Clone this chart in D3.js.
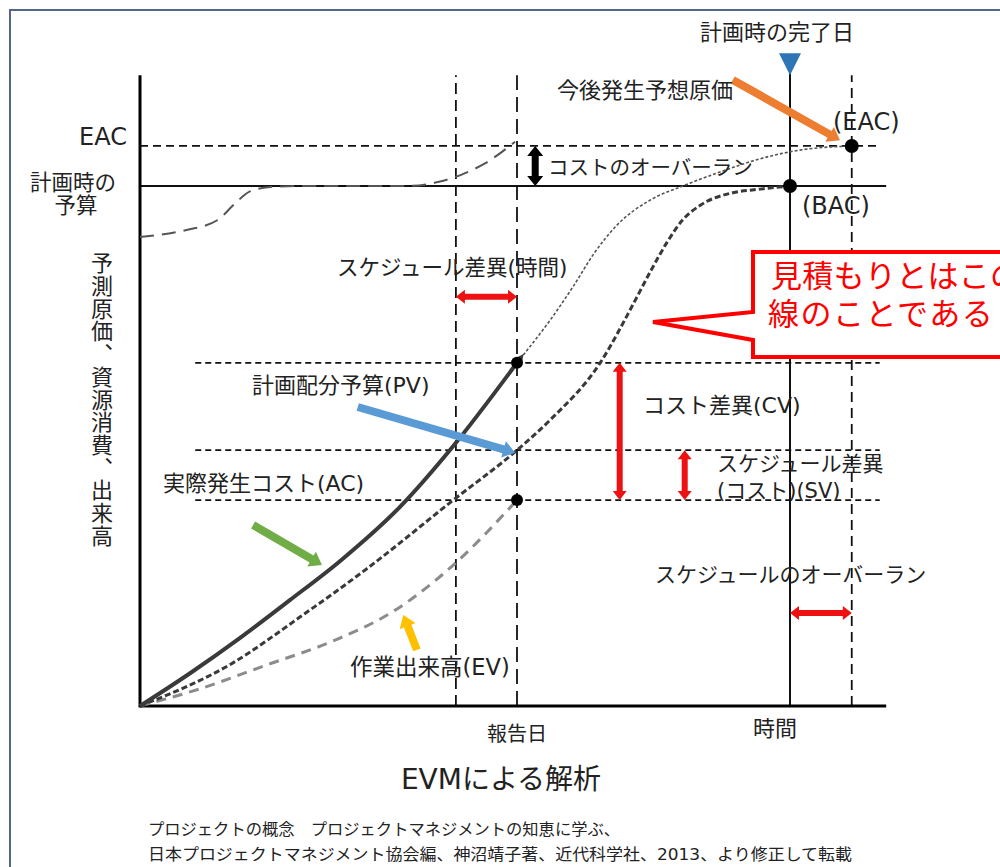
<!DOCTYPE html>
<html>
<head>
<meta charset="utf-8">
<script src="https://cdn.jsdelivr.net/npm/d3@7"></script>
<style>
body { margin: 0; background: #fff; }
svg { display: block; }
text { font-family: "DejaVu Sans", "Noto Sans CJK JP", sans-serif; fill: #222; }
</style>
</head>
<body>
<div id="evmChart"></div>
<script>
// ---- values (time: planned completion = 100, cost: budget BAC = 100) ----
var budgetBAC = 100;
var estimateEAC = 107.7;
var reportDay = 58;
var earnedDay = 48.6;          // date at which PV equals today's EV
var plannedEnd = 100;
var forecastEnd = 109.5;
var axisMaxX = 114.8;
var axisMaxY = 121.3;

// values on the reporting day: AC, PV, EV
var reportLevels = [66, 49.2, 39.6];

// curves [time, cost]
var acCurve = [[0, 0], [7.7, 6.3], [15.4, 13.1], [23.1, 20.4], [30.8, 27.9], [40, 38.3], [48.2, 50], [58, 66]];
var pvCurve = [[0, 0], [14.3, 8.3], [24.6, 17.1], [34.9, 26.4], [48.2, 39.6], [58, 49.2], [63.1, 55], [70.8, 66],
               [75.8, 77.1], [78.5, 83.5], [81.1, 89.2], [83.5, 93.5], [86.2, 96.3], [91.2, 98.7], [95.4, 99.4], [100, 100]];
var evCurve = [[0, 0], [9.2, 3.3], [19.5, 7.9], [29.7, 12.5], [39.1, 18.3], [48.2, 27.1], [58, 39.6]];
var etcCurve = [[58, 66], [60.8, 70.4], [63.1, 74.2], [66.6, 80.6], [70, 87.3], [73.4, 92.5], [78.5, 97.3],
                [83.5, 100], [88.8, 102.5], [96.5, 105.6], [101.5, 106.9], [109.5, 107.7]];
var oldBudgetCurve = [[0, 90.2], [7, 91.5], [12, 93.5], [14.5, 96.5], [17, 99], [20, 99.8], [24, 100],
                      [41, 100], [46, 100.8], [49.5, 102.2], [53, 104.3], [57.7, 108.5]];

// pointer arrows [from, to] : orange, blue, green, yellow
var pointerFrom = [[91.2, 120.4], [33.5, 57.5], [17.4, 34.8], [42.6, 10.8]];
var pointerTo   = [[107.7, 108.8], [57.7, 48.7], [28, 27.1], [40.5, 17.5]];
var pointerColors = ["#ED7D31", "#5B9BD5", "#70AD47", "#FFC000"];

// ---- drawing ----
var width = 1000, height = 867;
var svg = d3.select("#evmChart").append("svg")
    .attr("width", width)
    .attr("height", height);

var x = d3.scaleLinear().domain([0, 100]).range([140, 790]);
var y = d3.scaleLinear().domain([0, 100]).range([706, 186]);

// frame
svg.append("rect")
    .attr("x", 10).attr("y", 10)
    .attr("width", 1000).attr("height", 900)
    .attr("fill", "none")
    .attr("stroke", "#54678a")
    .attr("stroke-width", 2);

var g = svg.append("g");

//Reference lines
function hline(v, x0, x1, dash, w) {
    g.append("line")
        .attr("x1", x(x0)).attr("x2", x(x1))
        .attr("y1", y(v)).attr("y2", y(v))
        .attr("stroke", "#111").attr("stroke-width", w)
        .attr("stroke-dasharray", dash);
}
function vline(v, y0, y1, dash, w) {
    g.append("line")
        .attr("x1", x(v)).attr("x2", x(v))
        .attr("y1", y(y0)).attr("y2", y(y1))
        .attr("stroke", "#111").attr("stroke-width", w)
        .attr("stroke-dasharray", dash);
}

hline(estimateEAC, 0, 113.8, "8,5", 1.8);
hline(budgetBAC, 0, axisMaxX, null, 2);
reportLevels.forEach(function(v) {
    hline(v, 8.5, 113.8, "6,4", 1.8);
});
vline(earnedDay, 0, axisMaxY, "11,6", 1.8);
vline(reportDay, 0, axisMaxY, "15,7", 1.8);
vline(forecastEnd, 0, axisMaxY, "10,6", 1.8);
vline(plannedEnd, 0, 121.9, null, 2);

// axes
g.append("line").attr("x1", x(0)).attr("x2", x(0)).attr("y1", y(0) + 1.5).attr("y2", y(axisMaxY))
    .attr("stroke", "#000").attr("stroke-width", 3);
g.append("line").attr("x1", x(0)).attr("x2", x(axisMaxX)).attr("y1", y(0)).attr("y2", y(0))
    .attr("stroke", "#000").attr("stroke-width", 3);

// curves
var line = d3.line()
    .x(function(d) { return x(d[0]); })
    .y(function(d) { return y(d[1]); })
    .curve(d3.curveMonotoneX);

svg.append("defs").append("marker")
    .attr("id", "acHead")
    .attr("markerUnits", "userSpaceOnUse")
    .attr("viewBox", "0 0 10 10")
    .attr("refX", 0).attr("refY", 5)
    .attr("markerWidth", 13).attr("markerHeight", 11)
    .attr("orient", "auto")
    .append("path").attr("d", "M0,0L10,5L0,10Z").attr("fill", "#3a3a3a");

g.append("path").datum(oldBudgetCurve).attr("d", line)
    .attr("fill", "none").attr("stroke", "#555").attr("stroke-width", 2).attr("stroke-dasharray", "14,8");
g.append("path").datum(evCurve).attr("d", line)
    .attr("fill", "none").attr("stroke", "#8c8c8c").attr("stroke-width", 3).attr("stroke-dasharray", "10,7");
g.append("path").datum(pvCurve).attr("d", line)
    .attr("fill", "none").attr("stroke", "#3a3a3a").attr("stroke-width", 3).attr("stroke-dasharray", "6,3");
g.append("path").datum(etcCurve).attr("d", line)
    .attr("fill", "none").attr("stroke", "#555").attr("stroke-width", 1.6).attr("stroke-dasharray", "3,2");
g.append("path").datum(acCurve).attr("d", line)
    .attr("fill", "none").attr("stroke", "#3a3a3a").attr("stroke-width", 4)
    .attr("marker-end", "url(#acHead)");

// points
var dots = [[reportDay, reportLevels[0], 6], [reportDay, reportLevels[2], 6], [plannedEnd, budgetBAC, 7], [forecastEnd, estimateEAC, 7]];
g.selectAll(".dot").data(dots).enter().append("circle")
    .attr("class", "dot")
    .attr("cx", function(d) { return x(d[0]); })
    .attr("cy", function(d) { return y(d[1]); })
    .attr("r", function(d) { return d[2]; })
    .attr("fill", "#000");

// planned completion marker
var tx = x(plannedEnd), ty = y(axisMaxY);
g.append("path")
    .attr("d", "M" + (tx - 11) + "," + (ty - 22) + "L" + (tx + 11) + "," + (ty - 22) + "L" + tx + "," + ty + "Z")
    .attr("fill", "#2E75B6");

//Block arrows
function arrowPath(p1, p2, shaft, head, headLen, both) {
    var dx = p2[0] - p1[0], dy = p2[1] - p1[1];
    var L = Math.hypot(dx, dy), ux = dx / L, uy = dy / L, nx = -uy, ny = ux;
    function P(t, o) { return [p1[0] + ux * t + nx * o, p1[1] + uy * t + ny * o]; }
    var pts;
    if (both) {
        pts = [P(0, 0), P(headLen, head / 2), P(headLen, shaft / 2), P(L - headLen, shaft / 2), P(L - headLen, head / 2),
               P(L, 0), P(L - headLen, -head / 2), P(L - headLen, -shaft / 2), P(headLen, -shaft / 2), P(headLen, -head / 2)];
    } else {
        pts = [P(0, shaft / 2), P(L - headLen, shaft / 2), P(L - headLen, head / 2), P(L, 0),
               P(L - headLen, -head / 2), P(L - headLen, -shaft / 2), P(0, -shaft / 2)];
    }
    return "M" + pts.map(function(p) { return p[0].toFixed(1) + "," + p[1].toFixed(1); }).join("L") + "Z";
}
function px(d) { return [x(d[0]), y(d[1])]; }

pointerFrom.forEach(function(f, i) {
    g.append("path")
        .attr("d", arrowPath(px(f), px(pointerTo[i]), 8, 17, 12, false))
        .attr("fill", pointerColors[i]);
});

// variance arrows
var redArrows = [
    [[earnedDay, 78.7], [reportDay, 78.7]],
    [[73.8, reportLevels[0]], [73.8, reportLevels[2]]],
    [[83.8, reportLevels[1]], [83.8, reportLevels[2]]],
    [[plannedEnd, 17.9], [forecastEnd, 17.9]]
];
redArrows.forEach(function(a) {
    g.append("path")
        .attr("d", arrowPath(px(a[0]), px(a[1]), 6, 14, 9, true))
        .attr("fill", "#EE1111");
});
g.append("path")
    .attr("d", arrowPath(px([60.8, budgetBAC]), px([60.8, estimateEAC]), 7, 16, 10, true))
    .attr("fill", "#000");

// callout
var callout = svg.append("g");
callout.append("path")
    .attr("d", "M653,322L753,312L753,252L1040,252L1040,357L753,357L753,340Z")
    .attr("fill", "#fff").attr("stroke", "#FF0000").attr("stroke-width", 4)
    .attr("stroke-linejoin", "miter");
callout.append("text").attr("x", 771).attr("y", 287).text("見積もりとはこの")
    .style("font-size", "31px").style("fill", "#FF0000").style("letter-spacing", "0.3px");
callout.append("text").attr("x", 768).attr("y", 325).text("線のことである")
    .style("font-size", "31px").style("fill", "#FF0000").style("letter-spacing", "1.5px");

//Labels
var labels = [
    ["計画時の完了日", 777, 40, "middle", 22],
    ["今後発生予想原価", 557, 98, "start", 22],
    ["EAC", 127, 145, "end", 24],
    ["計画時の", 73, 190, "middle", 21.5],
    ["予算", 76, 213, "middle", 21.5],
    ["(EAC)", 833, 130, "start", 24],
    ["(BAC)", 802, 214, "start", 24],
    ["コストのオーバーラン", 548, 175, "start", 20.5],
    ["スケジュール差異(時間)", 337, 275, "start", 21.5],
    ["計画配分予算(PV)", 252, 393, "start", 22],
    ["実際発生コスト(AC)", 163, 491, "start", 22],
    ["作業出来高(EV)", 350, 675, "start", 22.5],
    ["コスト差異(CV)", 643, 413, "start", 22],
    ["スケジュール差異", 717, 471, "start", 21],
    ["(コスト)(SV)", 717, 498, "start", 21],
    ["スケジュールのオーバーラン", 655, 582, "start", 21],
    ["報告日", x(reportDay), 741, "middle", 20],
    ["時間", x(plannedEnd) - 15, 736, "middle", 22],
    ["EVMによる解析", 501, 789, "middle", 28]
];
svg.selectAll(".lbl").data(labels).enter().append("text")
    .attr("class", "lbl")
    .attr("x", function(d) { return d[1]; })
    .attr("y", function(d) { return d[2]; })
    .attr("text-anchor", function(d) { return d[3]; })
    .style("font-size", function(d) { return d[4] + "px"; })
    .text(function(d) { return d[0]; });

// vertical axis title
svg.append("text")
    .attr("x", 102).attr("y", 252)
    .style("writing-mode", "vertical-rl")
    .style("font-family", "'Noto Sans CJK JP'")
    .style("font-size", "22px")
    .style("letter-spacing", "0.7px")
    .text("予測原価、資源消費、出来高");

// source note
svg.append("text").attr("x", 148).attr("y", 835)
    .attr("textLength", 472).attr("lengthAdjust", "spacingAndGlyphs")
    .style("font-size", "16px")
    .text("プロジェクトの概念　プロジェクトマネジメントの知恵に学ぶ、");
svg.append("text").attr("x", 148).attr("y", 860)
    .attr("textLength", 704).attr("lengthAdjust", "spacingAndGlyphs")
    .style("font-size", "16px")
    .text("日本プロジェクトマネジメント協会編、神沼靖子著、近代科学社、2013、より修正して転載");
</script>
</body>
</html>
